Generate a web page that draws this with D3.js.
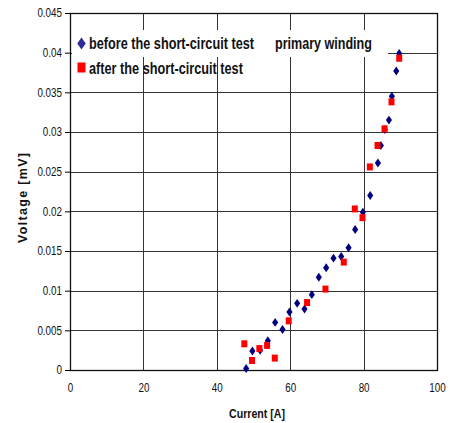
<!DOCTYPE html>
<html>
<head>
<meta charset="utf-8">
<script src="https://cdn.jsdelivr.net/npm/d3@7"></script>
<style>
  body { margin: 0; background: #fff; }
  svg text { font-family: "Liberation Sans", Arial, sans-serif; }
</style>
</head>
<body>
<svg id="chart" width="450" height="423"></svg>
<script>
// before the short-circuit test (current [A], voltage [mV])
var beforeI = [48, 49.7, 51.8, 53.9, 55.9, 57.9, 59.8, 61.9, 63.9, 65.9, 67.8, 69.8, 71.8, 73.9, 75.9, 77.7, 79.8, 81.8, 83.9, 84.7, 85.8, 86.9, 87.7, 88.9, 89.7]
var beforeV = [0.0002, 0.0024, 0.0025, 0.0037, 0.006, 0.0051, 0.0073, 0.0084, 0.0077, 0.0095, 0.0117, 0.0129, 0.0141, 0.0143, 0.0154, 0.0177, 0.0199, 0.022, 0.0261, 0.0283, 0.0303, 0.0315, 0.0345, 0.0377, 0.0399]
// after the short-circuit test
var afterI = [47.5, 49.6, 51.6, 53.7, 55.8, 59.6, 64.6, 69.6, 74.6, 77.6, 79.7, 81.7, 83.8, 85.7, 87.6, 89.7]
var afterV = [0.0033, 0.0012, 0.0027, 0.0031, 0.0015, 0.0062, 0.0085, 0.0102, 0.0136, 0.0203, 0.0192, 0.0256, 0.0283, 0.0304, 0.0338, 0.0393]

var xTicks = [0, 20, 40, 60, 80, 100]
var yTicks = [0, 0.005, 0.01, 0.015, 0.02, 0.025, 0.03, 0.035, 0.04, 0.045]
var legendLabels = ["before the short-circuit test", "after the short-circuit test"]

var svg = d3.select("#chart")
var margin = {left: 70, top: 13, right: 13, bottom: 53}
var w = 450 - margin.left - margin.right
var h = 423 - margin.top - margin.bottom
var narrow = 0.82

var x = d3.scaleLinear().domain([0, 100]).range([0, w])
var y = d3.scaleLinear().domain([0, 0.045]).range([h, 0])

// squeeze a text horizontally to a given width (the original uses a narrow font)
function squeeze(sel, px, py, width) {
  var node = sel.node()
  var k = width / node.getComputedTextLength()
  sel.attr("x", null).attr("y", null)
    .attr("transform", "translate(" + px + "," + py + ") scale(" + k + ",1)")
}

var g = svg.append("g").attr("transform", "translate(" + margin.left + "," + margin.top + ")")

// grid
g.selectAll(".hgrid").data(yTicks.slice(1, -1))
  .enter().append("line")
  .attr("x1", 0).attr("x2", w)
  .attr("y1", d => Math.round(y(d)) + 0.5).attr("y2", d => Math.round(y(d)) + 0.5)
  .attr("stroke", "#333")
g.selectAll(".vgrid").data(xTicks.slice(1, -1))
  .enter().append("line")
  .attr("y1", 0).attr("y2", h)
  .attr("x1", d => Math.round(x(d)) + 0.5).attr("x2", d => Math.round(x(d)) + 0.5)
  .attr("stroke", "#333")

// axes
var yAxis = g.append("g").call(d3.axisLeft(y).tickValues(yTicks).tickFormat(d => String(+d.toFixed(3))).tickSize(5))
var xAxis = g.append("g").attr("transform", "translate(0," + h + ")")
  .call(d3.axisBottom(x).tickValues(xTicks).tickSize(0).tickPadding(13))
yAxis.select(".domain").remove()
xAxis.select(".domain").remove()
svg.selectAll(".tick text").attr("font-family", null).attr("font-size", 12).attr("fill", "#111")
yAxis.selectAll(".tick text").attr("x", -8 / narrow).attr("transform", "scale(" + narrow + ",1)")
xAxis.selectAll(".tick text").attr("transform", "scale(" + narrow + ",1)")

// frame
g.append("rect").attr("x", 0.5).attr("y", 0.5).attr("width", w).attr("height", h)
  .attr("fill", "none").attr("stroke", "#111").attr("stroke-width", 1.3)

// white box behind the first legend line and the title
g.append("rect").attr("x", 2).attr("y", 17).attr("width", 316).attr("height", 27).attr("fill", "#fff")

// points
var diamond = d3.symbol().type(d3.symbolDiamond).size(36)
g.selectAll(".before").data(beforeI)
  .enter().append("path")
  .attr("d", diamond)
  .attr("transform", (d, i) => "translate(" + x(d) + "," + y(beforeV[i]) + ") scale(0.95,0.8)")
  .attr("fill", "#00007f")
g.selectAll(".after").data(afterI)
  .enter().append("rect")
  .attr("x", d => x(d) - 3).attr("y", (d, i) => y(afterV[i]) - 3.5)
  .attr("width", 6).attr("height", 7)
  .attr("fill", "#ff0000")

// legend
var leg = g.append("g").attr("transform", "translate(11.5,30.5)")
leg.append("path").attr("d", d3.symbol().type(d3.symbolDiamond).size(62)).attr("transform", "scale(1,0.82)").attr("fill", "#2b2b99")
leg.append("rect").attr("x", -4).attr("y", 19).attr("width", 8).attr("height", 10).attr("fill", "#ff0000")
var legW = [165, 154]
leg.selectAll("text.lab").data(legendLabels)
  .enter().append("text")
  .attr("font-size", 17).attr("font-weight", "bold").attr("fill", "#111")
  .text(d => d)
  .each(function(d, i) { squeeze(d3.select(this), 7.5, 5.5 + i * 24.5, legW[i]) })
var title = g.append("text")
  .attr("font-size", 17).attr("font-weight", "bold").attr("fill", "#111")
  .text("primary winding")
squeeze(title, 205, 36, 97)

// axis titles
var xt = svg.append("text")
  .attr("font-size", 13).attr("font-weight", "bold").attr("fill", "#111")
  .text("Current [A]")
squeeze(xt, 229, 418, 56)
svg.append("text").attr("transform", "translate(27,243) rotate(-90)")
  .attr("font-size", 12.5).attr("font-weight", "bold").attr("fill", "#111")
  .attr("textLength", 90).attr("lengthAdjust", "spacing")
  .text("Voltage [mV]")
</script>
</body>
</html>
